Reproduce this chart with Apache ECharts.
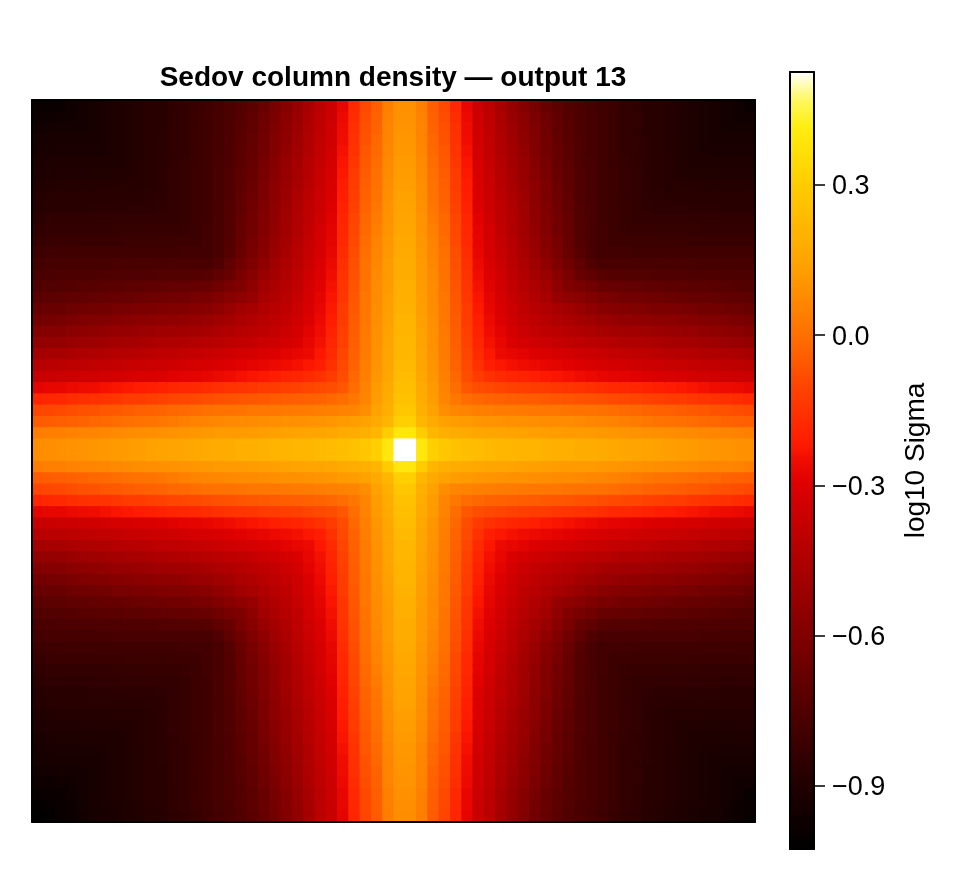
<!DOCTYPE html>
<html><head><meta charset="utf-8"><style>html,body{margin:0;padding:0;background:#fff}#c{width:960px;height:880px}</style>
<script src="https://cdn.jsdelivr.net/npm/echarts@6/dist/echarts.min.js"></script></head>
<body><div id="c"></div><script>
const TITLE = 'Sedov column density — output 13';
const BAR_NAME = 'log10 Sigma';
const BAR_TICKS = [-0.9, -0.6, -0.3, 0, 0.3];
const V_MIN = -1.026, V_MAX = 0.5255;
// Colour scale: value anchors and their colours
const CMAP_VALUES = [-1.026,-0.9,-0.6,-0.3,-0.25,-0.22,-0.1,0,0.134,0.3,0.416,0.47,0.5255];
const CMAP_COLORS = ['#000000','#200000','#800000','#dd0000','#f00c00','#ff1a00','#ff4500','#ff7000','#ffa000','#ffcc00','#ffee10','#fff860','#ffffff'];
// Cell layout: distance (in cells) of each column / row from the bright centre
const COL_DIST = [32,31,30,29,28,27,26,25,24,23,22,21,20,19,18,17,16,15,14,13,12,11,10,9,8,7,6,5,4,3,2,1,0,0,1,2,3,4,5,6,7,8,9,10,11,12,13,14,15,16,17,18,19,20,21,22,23,24,25,26,27,28,29,30];
const ROW_DIST = [30,29,28,27,26,25,24,23,22,21,20,19,18,17,16,15,14,13,12,11,10,9,8,7,6,5,4,3,2,1,0,0,1,2,3,4,5,6,7,8,9,10,11,12,13,14,15,16,17,18,19,20,21,22,23,24,25,26,27,28,29,30,31,32];
// log10 Sigma, by (smaller distance a, larger distance b=a..32)
const SIGMA = [
[.5255,.39,.31,.28,.26,.25,.24,.23,.22,.22,.21,.21,.20,.19,.19,.18,.18,.17,.165,.16,.15,.145,.14,.13,.125,.12,.11,.105,.10,.095,.09,.085,.08],
[.30,.22,.19,.18,.17,.16,.155,.15,.145,.14,.135,.13,.125,.12,.12,.115,.11,.105,.10,.095,.09,.085,.08,.075,.07,.065,.06,.055,.05,.045,.04,.035],
[.17,.14,.125,.115,.105,.10,.095,.09,.09,.085,.08,.075,.075,.07,.065,.06,.05,.04,.03,.02,.01,.005,0,-.01,-.015,-.02,-.03,-.035,-.04,-.045,-.05],
[.08,.06,.05,.04,.035,.03,.03,.025,.02,.015,.015,.01,.005,.005,0,-.01,-.015,-.02,-.03,-.035,-.04,-.05,-.055,-.06,-.07,-.075,-.08,-.09,-.095,-.10],
[.02,-.01,-.02,-.03,-.035,-.04,-.045,-.05,-.055,-.06,-.065,-.07,-.075,-.08,-.09,-.095,-.10,-.11,-.12,-.125,-.13,-.14,-.15,-.155,-.16,-.17,-.18,-.185,-.19],
[-.06,-.08,-.09,-.10,-.11,-.12,-.125,-.13,-.14,-.145,-.15,-.16,-.17,-.18,-.185,-.19,-.20,-.21,-.215,-.22,-.23,-.24,-.25,-.255,-.26,-.27,-.275,-.28],
[-.13,-.155,-.175,-.19,-.20,-.21,-.22,-.23,-.24,-.25,-.26,-.27,-.28,-.285,-.29,-.30,-.31,-.315,-.32,-.33,-.335,-.34,-.345,-.35,-.36,-.365,-.37],
[-.21,-.225,-.24,-.25,-.26,-.27,-.28,-.29,-.30,-.31,-.32,-.33,-.335,-.345,-.35,-.36,-.365,-.37,-.38,-.385,-.39,-.40,-.405,-.41,-.415,-.42],
[-.26,-.27,-.285,-.30,-.31,-.325,-.335,-.345,-.36,-.37,-.38,-.385,-.395,-.40,-.41,-.42,-.425,-.43,-.44,-.445,-.45,-.46,-.47,-.475,-.48],
[-.31,-.33,-.345,-.36,-.375,-.39,-.40,-.41,-.42,-.43,-.44,-.445,-.45,-.46,-.47,-.475,-.485,-.49,-.50,-.51,-.52,-.53,-.535,-.54],
[-.36,-.38,-.395,-.41,-.425,-.44,-.455,-.47,-.48,-.49,-.495,-.50,-.51,-.515,-.525,-.53,-.54,-.55,-.555,-.565,-.58,-.585,-.59],
[-.40,-.42,-.44,-.46,-.48,-.50,-.52,-.53,-.54,-.545,-.55,-.56,-.565,-.575,-.58,-.59,-.595,-.605,-.615,-.63,-.635,-.64],
[-.44,-.47,-.49,-.52,-.545,-.57,-.58,-.59,-.595,-.60,-.61,-.615,-.625,-.63,-.64,-.645,-.65,-.66,-.67,-.675,-.68],
[-.53,-.55,-.57,-.60,-.62,-.63,-.64,-.645,-.65,-.66,-.665,-.67,-.68,-.68,-.69,-.695,-.70,-.71,-.715,-.72],
[-.60,-.62,-.65,-.67,-.68,-.685,-.69,-.70,-.70,-.71,-.71,-.72,-.72,-.725,-.73,-.735,-.74,-.745,-.75],
[-.67,-.70,-.73,-.735,-.74,-.74,-.745,-.75,-.75,-.75,-.755,-.755,-.755,-.76,-.76,-.76,-.765,-.77],
[-.75,-.77,-.77,-.77,-.77,-.775,-.775,-.775,-.775,-.775,-.78,-.78,-.78,-.78,-.78,-.785,-.79],
[-.79,-.79,-.79,-.795,-.795,-.795,-.795,-.80,-.80,-.80,-.80,-.80,-.80,-.80,-.805,-.81],
[-.81,-.81,-.81,-.815,-.815,-.815,-.815,-.82,-.82,-.82,-.82,-.82,-.82,-.825,-.83],
[-.825,-.83,-.83,-.83,-.835,-.835,-.835,-.84,-.84,-.84,-.84,-.84,-.845,-.85],
[-.84,-.84,-.845,-.845,-.845,-.85,-.85,-.85,-.85,-.85,-.85,-.855,-.86],
[-.855,-.86,-.86,-.86,-.865,-.865,-.865,-.87,-.87,-.87,-.875,-.88],
[-.865,-.87,-.87,-.87,-.87,-.875,-.875,-.875,-.875,-.88,-.885],
[-.88,-.88,-.88,-.885,-.885,-.885,-.885,-.885,-.89,-.895],
[-.89,-.895,-.895,-.895,-.90,-.90,-.90,-.905,-.91],
[-.905,-.905,-.91,-.91,-.91,-.91,-.915,-.92],
[-.915,-.92,-.92,-.92,-.92,-.925,-.93],
[-.93,-.93,-.93,-.93,-.935,-.94],
[-.945,-.945,-.945,-.95,-.955],
[-.96,-.96,-.965,-.97],
[-.98,-.985,-.99],
[-1.0,-1.01],
[-1.02]
];

const FONT = '"Liberation Sans", Arial, sans-serif';
const cells = [];
COL_DIST.forEach((dx, i) => ROW_DIST.forEach((dy, j) => {
  const a = Math.min(dx, dy), b = Math.max(dx, dy);
  cells.push([i, j, SIGMA[a][b - a]]);
}));
function hexRgb(h){return [1,3,5].map(k=>parseInt(h.substr(k,2),16));}
const ramp = [];
for (let k = 0; k <= 128; k++) {
  const v = V_MIN + (V_MAX - V_MIN) * k / 128;
  let s = 0; while (s < CMAP_VALUES.length - 2 && v > CMAP_VALUES[s + 1]) s++;
  const t = Math.min(1, Math.max(0, (v - CMAP_VALUES[s]) / (CMAP_VALUES[s + 1] - CMAP_VALUES[s])));
  const c0 = hexRgb(CMAP_COLORS[s]), c1 = hexRgb(CMAP_COLORS[s + 1]);
  ramp.push('rgb(' + c0.map((c, n) => Math.round(c + (c1[n] - c) * t)).join(',') + ')');
}
const cats = COL_DIST.map((_, i) => i), rowCats = ROW_DIST.map((_, i) => i);
const frame = {show:true, onZero:false, lineStyle:{color:'#000', width:2}};
const off = {axisTick:{show:false}, axisLabel:{show:false}, splitLine:{show:false}, splitArea:{show:false}, axisLine:frame, z:5};
function renderCell(params, api) {
  const c = api.coord([api.value(0), api.value(1)]);
  const s = api.size([1, 1]);
  return {type:'rect',
    shape:{x:c[0] - s[0] / 2, y:c[1] - s[1] / 2, width:s[0] + 2, height:s[1] + 2},
    style:{fill:api.visual('color')}};
}
const chart = echarts.init(document.getElementById('c'), null, {renderer:'canvas'});
chart.setOption({
  animation:false, backgroundColor:'#fff',
  title:{text:TITLE, left:388, top:59, textAlign:'center', textStyle:{fontFamily:FONT, fontWeight:'bold', fontSize:28, color:'#000'}},
  grid:[{left:32, top:100, width:723, height:722}, {left:790, top:72, width:24, height:777}],
  xAxis:[
    Object.assign({type:'category', data:cats, gridIndex:0, position:'bottom'}, off),
    Object.assign({type:'category', data:cats, gridIndex:0, position:'top'}, off),
    Object.assign({type:'value', min:0, max:1, gridIndex:1, position:'bottom'}, off),
    Object.assign({type:'value', min:0, max:1, gridIndex:1, position:'top'}, off)
  ],
  yAxis:[
    Object.assign({type:'category', data:rowCats, inverse:true, gridIndex:0, position:'left'}, off),
    Object.assign({type:'category', data:rowCats, inverse:true, gridIndex:0, position:'right'}, off),
    Object.assign({type:'value', min:V_MIN, max:V_MAX, gridIndex:1, position:'left'}, off),
    {type:'value', min:V_MIN, max:V_MAX, gridIndex:1, position:'right', z:5, splitLine:{show:false},
     axisLine:frame,
     axisTick:{show:true, length:11, customValues:BAR_TICKS, lineStyle:{color:'#000', width:1.5}},
     axisLabel:{show:true, margin:18, customValues:BAR_TICKS,
       formatter:v => '{t|' + (v < 0 ? '\u2212' : '') + Math.abs(v).toFixed(1) + '}',
       rich:{t:{color:'#000', fontFamily:FONT, fontSize:27, padding:[4,0,0,0]}}},
     name:BAR_NAME, nameLocation:'middle', nameRotate:90, nameGap:88,
     nameTextStyle:{color:'#000', fontFamily:FONT, fontSize:28}}
  ],
  visualMap:{type:'continuous', seriesIndex:0, dimension:2, min:V_MIN, max:V_MAX, show:true, calculable:false, hoverLink:false,
    itemWidth:24, itemHeight:777, left:790, top:72, padding:0, text:null, showLabel:false, z:2,
    textStyle:{fontSize:0}, inRange:{color:ramp}},
  series:[{type:'custom', xAxisIndex:0, yAxisIndex:0, data:cells, renderItem:renderCell, clip:true,
    encode:{x:0, y:1, tooltip:2}, progressive:0, large:false}]
});
</script></body></html>
